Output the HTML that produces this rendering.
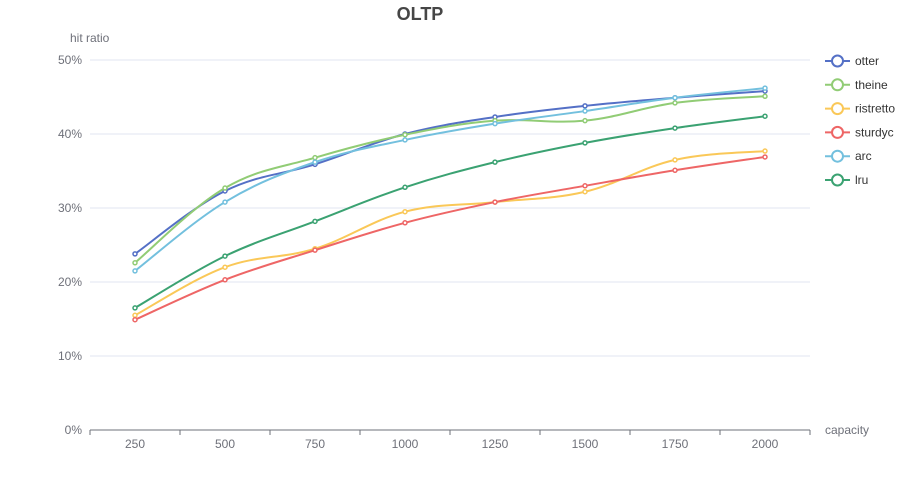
<!DOCTYPE html>
<html><head><meta charset="utf-8"><style>
html,body{margin:0;padding:0;background:#fff;}
svg{display:block;font-family:"Liberation Sans",sans-serif;}
</style></head><body>
<svg id="chart" width="900" height="500">
<text x="420" y="20" text-anchor="middle" font-size="18" font-weight="bold" fill="#464646">OLTP</text>
<text x="70" y="42" font-size="12" fill="#6e7079">hit ratio</text>
<text x="825" y="434" font-size="12" fill="#6e7079">capacity</text>
<g id="grid"></g><g id="series"></g><g id="legend"></g>
</svg>
<script>
const categories=["250","500","750","1000","1250","1500","1750","2000"];
const yTicks=[0,10,20,30,40,50];
const seriesNames=["otter","theine","ristretto","sturdyc","arc","lru"];
const otter=[23.8,32.3,35.9,40.0,42.3,43.8,44.9,45.8];
const theine=[22.6,32.7,36.8,39.9,41.8,41.8,44.2,45.1];
const ristretto=[15.5,22.0,24.5,29.5,30.8,32.2,36.5,37.7];
const sturdyc=[14.9,20.3,24.3,28.0,30.8,33.0,35.1,36.9];
const arc=[21.5,30.8,36.2,39.2,41.4,43.1,44.9,46.2];
const lru=[16.5,23.5,28.2,32.8,36.2,38.8,40.8,42.4];
const allSeries=[otter,theine,ristretto,sturdyc,arc,lru];
const colors=["#5470c6","#91cc75","#fac858","#ee6666","#73c0de","#3ba272"];
const NS="http://www.w3.org/2000/svg";
const X0=90,X1=810,Y0=430,Y1=60;
const band=(X1-X0)/categories.length;
const xs=i=>X0+band*(i+0.5);
const ys=v=>Y0-(v-0)/(50-0)*(Y0-Y1);
function mk(t,a,p){const e=document.createElementNS(NS,t);for(const k in a)e.setAttribute(k,a[k]);p.appendChild(e);return e;}
const grid=document.getElementById('grid');
yTicks.forEach(v=>{
  if(v>0){const l=mk('line',{x1:X0,x2:X1,y1:ys(v),y2:ys(v),stroke:'#e0e6f1'},grid);
  
  }
  const t=mk('text',{x:82,y:ys(v)+4,'text-anchor':'end','font-size':12,fill:'#6e7079'},grid);t.textContent=v+'%';
  
  
});
const ax=mk('line',{x1:X0,x2:X1,y1:Y0,y2:Y0,stroke:'#6e7079'},grid);


for(let i=0;i<=categories.length;i++){const tk=mk('line',{x1:X0+band*i,x2:X0+band*i,y1:Y0,y2:Y0+5,stroke:'#6e7079'},grid);
  
  }
categories.forEach((c,i)=>{const t=mk('text',{x:xs(i),y:Y0+18,'text-anchor':'middle','font-size':12,fill:'#6e7079'},grid);t.textContent=c;
  
  });
function smooth(pts){let d=`M${pts[0][0]},${pts[0][1]}`;const s=0.18;
  for(let i=0;i<pts.length-1;i++){const p0=pts[Math.max(0,i-1)],p1=pts[i],p2=pts[i+1],p3=pts[Math.min(pts.length-1,i+2)];
    const c1=[p1[0]+(p2[0]-p0[0])*s,p1[1]+(p2[1]-p0[1])*s],c2=[p2[0]-(p3[0]-p1[0])*s,p2[1]-(p3[1]-p1[1])*s];
    d+=` C${c1[0]},${c1[1]} ${c2[0]},${c2[1]} ${p2[0]},${p2[1]}`;}
  return d;}
const sg=document.getElementById('series');
allSeries.forEach((data,k)=>{
  const g=mk('g',{},sg);
  
  
  const pts=data.map((v,i)=>[xs(i),ys(v)]);
  const p=mk('path',{d:smooth(pts),fill:'none',stroke:colors[k],'stroke-width':2},g);
  
  
  pts.forEach(q=>{const c=mk('circle',{cx:q[0],cy:q[1],r:2,fill:'#fff',stroke:colors[k],'stroke-width':1.5},g);
    
    });
});
const lg=document.getElementById('legend');
seriesNames.forEach((n,k)=>{
  const y=61+k*23.8;
  const g=mk('g',{},lg);
  
  
  mk('line',{x1:825,x2:850,y1:y,y2:y,stroke:colors[k],'stroke-width':2},g);
  mk('circle',{cx:837.5,cy:y,r:5.5,fill:'#fff',stroke:colors[k],'stroke-width':2},g);
  const t=mk('text',{x:855,y:y+4,'font-size':12,fill:'#333'},g);t.textContent=n;
});
</script>
</body></html>
